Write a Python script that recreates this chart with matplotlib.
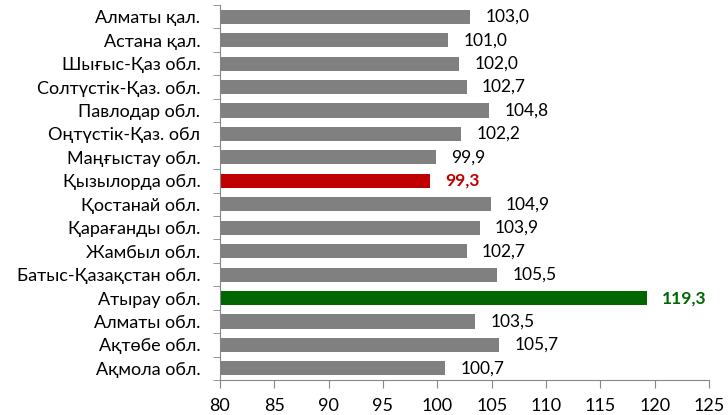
import matplotlib
matplotlib.use("Agg")
import matplotlib.pyplot as plt
import numpy as np

plt.rcParams['font.family'] = ['Lato', 'DejaVu Sans']

# data (top to bottom as in the picture)
regions = ["Алматы қал.", "Астана қал.", "Шығыс-Қаз обл.", "Солтүстік-Қаз. обл.",
           "Павлодар обл.", "Оңтүстік-Қаз. обл", "Маңғыстау обл.", "Қызылорда обл.",
           "Қостанай обл.", "Қарағанды обл.", "Жамбыл обл.", "Батыс-Қазақстан обл.",
           "Атырау обл.", "Алматы обл.", "Ақтөбе обл.", "Ақмола обл."]
values = [103.0, 101.0, 102.0, 102.7, 104.8, 102.2, 99.9, 99.3,
          104.9, 103.9, 102.7, 105.5, 119.3, 103.5, 105.7, 100.7]
lowest = "Қызылорда обл."
highest = "Атырау обл."

grey = "#808080"
red = "#C00000"
green = "#006600"

fig = plt.figure(figsize=(7.28, 4.15), dpi=100)
ax = fig.add_axes([0.302, 0.084, 0.672, 0.904])

y = np.arange(len(regions))
colors = []
for r in regions:
    if r == lowest:
        colors.append(red)
    elif r == highest:
        colors.append(green)
    else:
        colors.append(grey)

ax.barh(y, values, height=0.6, color=colors, left=0)

for yi, v, r, c in zip(y, values, regions, colors):
    bold = r in (lowest, highest)
    ax.annotate(f"{v:.1f}".replace(".", ","), (v, yi), xytext=(11, 0),
                textcoords="offset points", va="center", ha="left",
                fontsize=12.5, color=c if bold else "black",
                fontweight="bold" if bold else "normal")

ax.set_xlim(80, 125)
ax.set_ylim(len(regions) - 0.5, -0.5)
ax.set_xticks(np.arange(80, 126, 5))
ax.tick_params(axis="x", labelsize=13, length=6, color="#868686", pad=7)

ax.set_yticks(y)
ax.set_yticklabels(regions, fontsize=13)
ax.tick_params(axis="y", length=0, pad=14)
ax.set_yticks(np.arange(-0.5, len(regions), 1), minor=True)
ax.tick_params(axis="y", which="minor", length=5, color="#868686")

for s in ["top", "right"]:
    ax.spines[s].set_visible(False)
for s in ["left", "bottom"]:
    ax.spines[s].set_color("#868686")

fig.savefig("out.png", dpi=100)
